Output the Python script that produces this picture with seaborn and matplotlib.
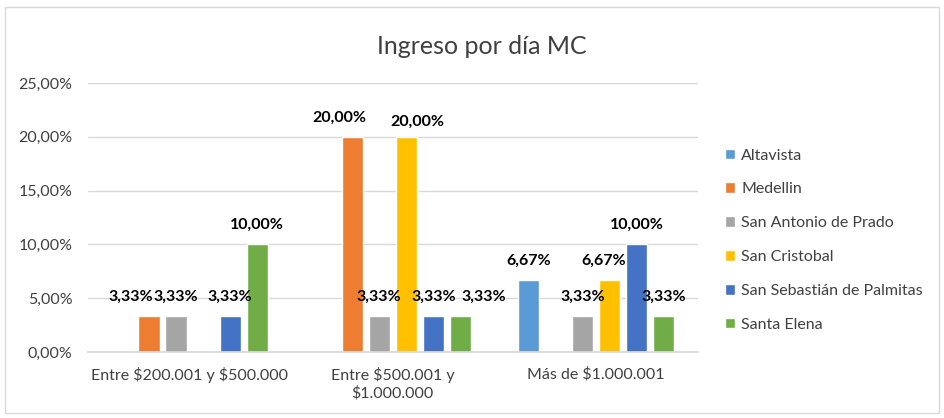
import matplotlib
matplotlib.use("Agg")
import matplotlib.pyplot as plt
import seaborn as sns
import pandas as pd
from matplotlib.patches import Rectangle
from matplotlib.ticker import FuncFormatter

categories = ["Entre $200.001 y $500.000", "Entre $500.001 y\n$1.000.000", "Más de $1.000.001"]
series = ["Altavista", "Medellin", "San Antonio de Prado", "San Cristobal",
          "San Sebastián de Palmitas", "Santa Elena"]
altavista = [0.0, 0.0, 6.67]
medellin = [3.33, 20.0, 0.0]
san_antonio = [3.33, 3.33, 3.33]
san_cristobal = [0.0, 20.0, 6.67]
san_sebastian = [3.33, 3.33, 10.0]
santa_elena = [10.0, 3.33, 3.33]
colors = ["#5B9BD5", "#ED7D31", "#A5A5A5", "#FFC000", "#4472C4", "#70AD47"]
yticks = [0, 5, 10, 15, 20, 25]

# nudges (points) of a few data labels, as placed in the reference
label_shift = {("Medellin", 0): (-13, 0), ("Medellin", 1): (-9.5, 0),
               ("San Cristobal", 1): (8, -3.5), ("Santa Elena", 1): (16.5, 0),
               ("San Cristobal", 2): (-4, 0)}

values = [altavista, medellin, san_antonio, san_cristobal, san_sebastian, santa_elena]
rows = []
for s, vals in zip(series, values):
    for c, v in zip(categories, vals):
        rows.append({"cat": c, "serie": s, "val": v})
df = pd.DataFrame(rows)

sns.set_theme(style="white")
plt.rcParams["font.family"] = ["Lato", "DejaVu Sans"]
plt.rcParams["text.parse_math"] = False

TXT = "#404040"
fig = plt.figure(figsize=(9.44, 4.18), dpi=100)
ax = fig.add_axes([0.0932, 0.1579, 0.6458, 0.6435])

sns.barplot(data=df, x="cat", y="val", hue="serie", order=categories, hue_order=series,
            palette=colors, width=0.8, gap=0.22, ax=ax, errorbar=None, saturation=1,
            legend=True)

for s, cont in zip(series, ax.containers):
    for i, b in enumerate(cont):
        h = b.get_height()
        if h <= 0:
            continue
        lab = ("%.2f%%" % h).replace(".", ",")
        dx, dy = label_shift.get((s, i), (0, 0))
        ax.annotate(lab, xy=(b.get_x() + b.get_width() / 2, h),
                    xytext=(dx, 9 + dy), textcoords="offset points",
                    ha="center", va="bottom", fontsize=11.5, fontweight="bold", color="black")

ax.set_ylim(0, 25)
ax.set_xlim(-0.5, 2.5)
ax.set_yticks(yticks)
ax.yaxis.set_major_formatter(FuncFormatter(lambda v, p: ("%.2f%%" % v).replace(".", ",")))
ax.grid(axis="y", color="#D9D9D9", linewidth=1)
ax.set_axisbelow(True)
for sp in ["top", "right", "left"]:
    ax.spines[sp].set_visible(False)
ax.spines["bottom"].set_color("#D9D9D9")
ax.set_xlabel("")
ax.set_ylabel("")
ax.tick_params(axis="y", length=0, labelsize=11.5, colors=TXT, pad=11)
ax.tick_params(axis="x", length=0, labelsize=11.5, colors=TXT, pad=11)

leg = ax.legend(loc="center left", bbox_to_anchor=(1.045, 0.416), frameon=False, fontsize=11.5,
                handlelength=0.65, handleheight=0.65, handletextpad=0.35, labelspacing=1.24,
                borderpad=0, borderaxespad=0)
for t in leg.get_texts():
    t.set_color(TXT)

fig.text(0.51, 0.888, "Ingreso por día MC", ha="center", va="center", fontsize=18, color=TXT)
fig.patches.append(Rectangle((0.005, 0.012), 0.99, 0.972, transform=fig.transFigure,
                             fill=False, edgecolor="#D9D9D9", linewidth=1))

fig.savefig("out.png", dpi=100)
